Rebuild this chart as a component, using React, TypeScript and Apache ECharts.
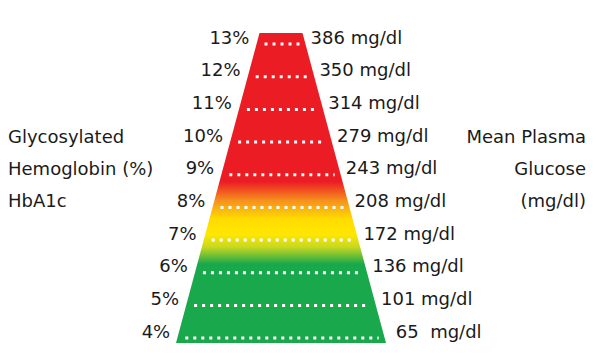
import React, { useEffect, useRef } from "react";
import * as echarts from "echarts";

// HbA1c levels (%) and matching mean plasma glucose (mg/dl)
const hba1cLevels = [4, 5, 6, 7, 8, 9, 10, 11, 12, 13];
const glucoseValues = [65, 101, 136, 172, 208, 243, 279, 314, 350, 386];
const leftTitleLines = ["Glycosylated", "Hemoglobin (%)", "HbA1c"];
const rightTitleLines = ["Mean Plasma", "Glucose", "(mg/dl)"];

// shape extents in axis units
const Y_MIN = 3.85;
const Y_MAX = 13.34;
const TOP_HALF = 21.5;
const BOTTOM_HALF = 105;

const FONT = "'DejaVu Sans', Verdana, sans-serif";

function halfWidth(level: number) {
  return BOTTOM_HALF + ((level - Y_MIN) / (Y_MAX - Y_MIN)) * (TOP_HALF - BOTTOM_HALF);
}

export default function App() {
  const ref = useRef<HTMLDivElement>(null);

  useEffect(() => {
    if (!ref.current) return;
    const chart = echarts.init(ref.current, null, { renderer: "svg" });

    const gradient = new echarts.graphic.LinearGradient(0, 0, 0, 1, [
      { offset: 0, color: "#ec1c24" },
      { offset: 0.48, color: "#ec1c24" },
      { offset: 0.54, color: "#f5901e" },
      { offset: 0.6, color: "#ffdc00" },
      { offset: 0.65, color: "#ffe600" },
      { offset: 0.69, color: "#c9d81f" },
      { offset: 0.745, color: "#19a84b" },
      { offset: 1, color: "#19a84b" },
    ]);

    const levelData = hba1cLevels.map((l, i) => [l, glucoseValues[i]]);

    const titleStyle = { font: `18px ${FONT}`, fill: "#1a1a1a", verticalAlign: "middle" };
    const graphics: any[] = [];
    leftTitleLines.forEach((t, i) => {
      graphics.push({
        type: "text",
        x: 8,
        y: 136 + i * 32,
        style: { ...titleStyle, text: t, align: "left" },
      });
    });
    rightTitleLines.forEach((t, i) => {
      graphics.push({
        type: "text",
        x: 586,
        y: 136 + i * 32,
        style: { ...titleStyle, text: t, align: "right" },
      });
    });

    const option: any = {
      animation: false,
      backgroundColor: "#ffffff",
      grid: { left: 131, width: 300, top: 33, height: 310 },
      xAxis: { type: "value", min: -150, max: 150, show: false },
      yAxis: { type: "value", min: Y_MIN, max: Y_MAX, show: false },
      graphic: graphics,
      series: [
        {
          type: "custom",
          z: 1,
          data: [[Y_MIN, Y_MAX]],
          renderItem: (params: any, api: any) => {
            const yb = api.value(0);
            const yt = api.value(1);
            const pts = [
              api.coord([-TOP_HALF, yt]),
              api.coord([TOP_HALF, yt]),
              api.coord([BOTTOM_HALF, yb]),
              api.coord([-BOTTOM_HALF, yb]),
            ];
            return {
              type: "polygon",
              shape: { points: pts },
              style: { fill: gradient },
            };
          },
        },
        {
          type: "custom",
          z: 2,
          data: levelData,
          renderItem: (params: any, api: any) => {
            const level = api.value(0);
            const glucose = api.value(1);
            const hw = halfWidth(level);
            const pL = api.coord([-hw, level]);
            const pR = api.coord([hw, level]);
            const labelY = pL[1] - 7;
            const pxPerUnit = api.size([1, 1]);
            const dLevel = 7 / pxPerUnit[1];
            const hwLabel = halfWidth(level + dLevel);
            const eL = api.coord([-hwLabel, level]);
            const eR = api.coord([hwLabel, level]);
            const gText = glucose < 100 ? `${glucose}  mg/dl` : `${glucose} mg/dl`;
            return {
              type: "group",
              children: [
                {
                  type: "line",
                  shape: { x1: pL[0] + 8, y1: pL[1], x2: pR[0] - 6, y2: pR[1] },
                  style: {
                    stroke: "#ffffff",
                    lineWidth: 3,
                    lineDash: [3, 5],
                    lineCap: "butt",
                  },
                },
                {
                  type: "text",
                  x: eL[0] - 9,
                  y: labelY,
                  style: {
                    text: `${level}%`,
                    font: `18px ${FONT}`,
                    fill: "#1a1a1a",
                    align: "right",
                    verticalAlign: "middle",
                  },
                },
                {
                  type: "text",
                  x: eR[0] + (glucose < 100 ? 13 : 7),
                  y: labelY,
                  style: {
                    text: gText,
                    font: `18px ${FONT}`,
                    fill: "#1a1a1a",
                    align: "left",
                    verticalAlign: "middle",
                  },
                },
              ],
            };
          },
        },
      ],
    };

    chart.setOption(option);
    return () => chart.dispose();
  }, []);

  return (
    <div
      ref={ref}
      style={{ position: "fixed", left: 0, top: 0, width: 600, height: 358 }}
    />
  );
}
